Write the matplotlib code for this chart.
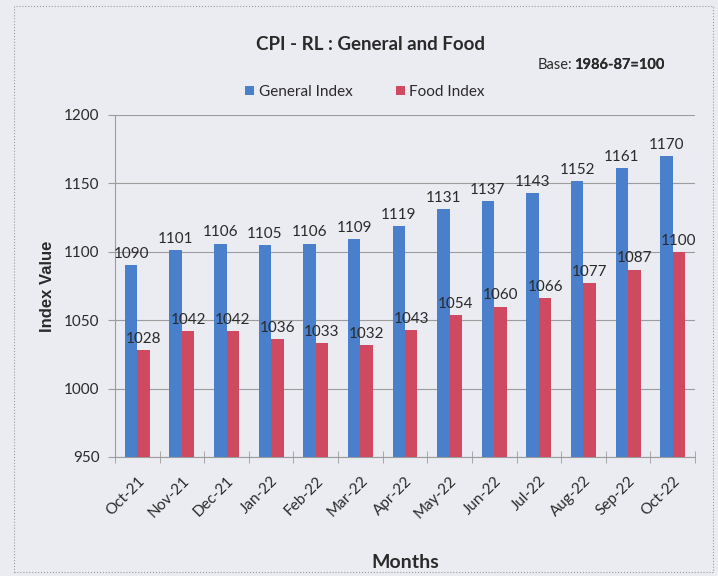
import matplotlib.pyplot as plt
import numpy as np
from matplotlib.patches import Rectangle

months = ['Oct-21', 'Nov-21', 'Dec-21', 'Jan-22', 'Feb-22', 'Mar-22', 'Apr-22',
          'May-22', 'Jun-22', 'Jul-22', 'Aug-22', 'Sep-22', 'Oct-22']
general_index = [1090, 1101, 1106, 1105, 1106, 1109, 1119, 1131, 1137, 1143, 1152, 1161, 1170]
food_index = [1028, 1042, 1042, 1036, 1033, 1032, 1043, 1054, 1060, 1066, 1077, 1087, 1100]

bg = '#ebebf2'
blue = '#4a80cb'
red = '#cf4961'
txt = '#2a2a2a'
font = ['Lato', 'DejaVu Sans']

fig = plt.figure(figsize=(7.18, 5.76), dpi=100, facecolor=bg)
ax = fig.add_axes([115 / 718, 1 - 457 / 576, 580 / 718, 342 / 576])
ax.set_facecolor(bg)

# outer dotted frame
fig.patches.append(Rectangle((14 / 718, 4 / 576), 699 / 718, 566 / 576, transform=fig.transFigure,
                             fill=False, ec='#9a9a9a', lw=0.8, ls=':'))

x = np.arange(len(months))
w = 0.28
ax.bar(x - w / 2, np.array(general_index) - 950, w, bottom=950, color=blue, label='General Index', zorder=3)
ax.bar(x + w / 2, np.array(food_index) - 950, w, bottom=950, color=red, label='Food Index', zorder=3)

for i in range(len(months)):
    ax.text(x[i] - w / 2, general_index[i] + 3, str(general_index[i]), ha='center', va='bottom',
            fontsize=11, color=txt, family=font, zorder=4)
    ax.text(x[i] + w / 2, food_index[i] + 3, str(food_index[i]), ha='center', va='bottom',
            fontsize=11, color=txt, family=font, zorder=4)

ax.set_xlim(-0.5, len(months) - 0.5)
ax.set_ylim(950, 1200)
ax.set_yticks([950, 1000, 1050, 1100, 1150, 1200])
ax.grid(axis='y', color='#9c9c9c', lw=0.8, zorder=0)
ax.set_xticks(x)
ax.set_xticklabels(months, rotation=45, ha='right', rotation_mode='anchor', family=font, fontsize=11, color=txt)
ax.set_xticks(np.arange(-0.5, len(months)), minor=True)
ax.tick_params(axis='x', which='major', length=0, pad=12)
ax.tick_params(axis='x', which='minor', length=8, direction='inout', color='#9c9c9c')
ax.tick_params(axis='y', length=5, color='#9c9c9c', pad=6, labelsize=11, labelcolor=txt)
for lab in ax.get_yticklabels():
    lab.set_family(font)
for s in ['top', 'right']:
    ax.spines[s].set_visible(False)
for s in ['left', 'bottom']:
    ax.spines[s].set_color('#9c9c9c')
    ax.spines[s].set_linewidth(0.8)

ax.set_ylabel('Index Value', fontsize=12, fontweight='bold', color=txt, labelpad=7,
              family=['Liberation Sans', 'DejaVu Sans'])
fig.text(405 / 718, 1 - 562 / 576, 'Months', ha='center', va='center', fontsize=14,
         fontweight='bold', color=txt, family=font)

fig.text(370 / 718, 1 - 45 / 576, 'CPI - RL : General and Food', ha='center', va='center',
         fontsize=13.5, fontweight='bold', color=txt, family=font)
base = fig.text(538 / 718, 1 - 65 / 576, 'Base:', ha='left', va='center', fontsize=10.5,
                color=txt, family=font)
fig.add_artist(ax.annotate('1986-87=100', xy=(1, 0.5), xycoords=base, xytext=(1, 0),
                           textcoords='offset points', ha='left', va='center', fontsize=10.5,
                           fontweight='bold', color=txt, family=font, annotation_clip=False))

fig.legend(loc='center', bbox_to_anchor=(365 / 718, 1 - 92 / 576), ncol=2, frameon=False,
           prop={'family': font, 'size': 11}, handlelength=0.6, handleheight=0.6,
           handletextpad=0.3, columnspacing=2.8, labelcolor=txt)

fig.savefig('out.png', dpi=100, facecolor=bg)
